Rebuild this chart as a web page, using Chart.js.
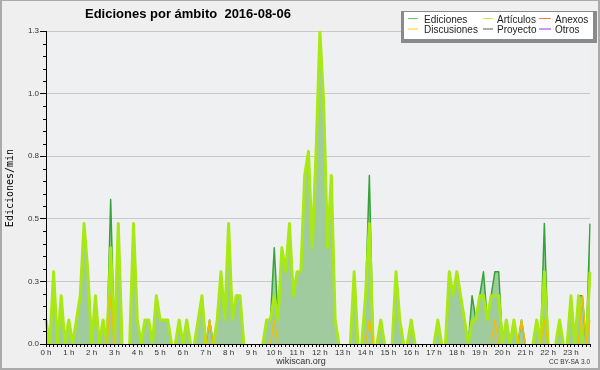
<!DOCTYPE html>
<html>
<head>
<meta charset="utf-8">
<script src="https://cdn.jsdelivr.net/npm/chart.js@4.4.0/dist/chart.umd.min.js"></script>
<style>
  html, body { margin: 0; padding: 0; background: #efefef; }
  #c { display: block; }
</style>
</head>
<body>
<canvas id="c" width="600" height="370"></canvas>
<script>
// etiquetas del eje x (una por hora)
const hourLabels = ['0 h', '1 h', '2 h', '3 h', '4 h', '5 h', '6 h', '7 h', '8 h', '9 h', '10 h', '11 h',
    '12 h', '13 h', '14 h', '15 h', '16 h', '17 h', '18 h', '19 h', '20 h', '21 h', '22 h', '23 h'];
// etiquetas del eje y
const yTickLabels = ['0.0', '0.3', '0.5', '0.8', '1.0', '1.3'];

// ediciones/min, tramos de 10 minutos
const ediciones = [
    0.1, 0, 0.3, 0, 0.2, 0, 0.1, 0, 0.1, 0.2,
    0.5, 0.3, 0, 0.2, 0, 0.1, 0, 0.6, 0, 0.5,
    0, 0, 0, 0.5, 0.1, 0, 0.1, 0.1, 0, 0.2,
    0.1, 0.1, 0.1, 0, 0, 0.1, 0, 0.1, 0, 0,
    0.1, 0.2, 0, 0.1, 0, 0.1, 0.3, 0.1, 0.5, 0.1,
    0.2, 0.2, 0, 0, 0, 0, 0, 0, 0.1, 0.1,
    0.4, 0.1, 0.4, 0.3, 0.5, 0.2, 0.3, 0.3, 0.7, 0.8,
    0.4, 0.8, 1.3, 1.0, 0.4, 0.7, 0.1, 0, 0, 0,
    0, 0.3, 0, 0, 0.2, 0.7, 0, 0, 0.1, 0,
    0, 0, 0.3, 0.1, 0, 0, 0.1, 0, 0, 0,
    0, 0, 0, 0.1, 0, 0, 0.3, 0.2, 0.3, 0.2,
    0.1, 0, 0.2, 0.1, 0.2, 0.3, 0.1, 0.2, 0.3, 0.3,
    0, 0.1, 0, 0.1, 0, 0.1, 0, 0, 0, 0.1,
    0, 0.5, 0, 0, 0, 0.1, 0, 0, 0.2, 0,
    0.2, 0.2, 0, 0.5
];
const articulos = [
    0.1, 0, 0.3, 0, 0.2, 0, 0.1, 0, 0.1, 0.2,
    0.5, 0.3, 0, 0.2, 0, 0.1, 0, 0.4, 0, 0.5,
    0, 0, 0, 0.5, 0.1, 0, 0.1, 0.1, 0, 0.2,
    0.1, 0.1, 0.1, 0, 0, 0.1, 0, 0.1, 0, 0,
    0.1, 0.2, 0, 0, 0, 0.1, 0.3, 0.1, 0.5, 0.1,
    0.2, 0.2, 0, 0, 0, 0, 0, 0, 0.1, 0.1,
    0.2, 0.1, 0.4, 0.3, 0.5, 0.2, 0.3, 0.3, 0.7, 0.8,
    0.4, 0.8, 1.3, 1.0, 0.4, 0.7, 0.1, 0, 0, 0,
    0, 0.3, 0, 0, 0.2, 0.5, 0, 0, 0.1, 0,
    0, 0, 0.3, 0.1, 0, 0, 0.1, 0, 0, 0,
    0, 0, 0, 0.1, 0, 0, 0.3, 0.2, 0.3, 0.2,
    0.1, 0, 0.1, 0.1, 0.2, 0.2, 0.1, 0.2, 0.2, 0.2,
    0, 0.1, 0, 0.1, 0, 0, 0, 0, 0, 0.1,
    0, 0.3, 0, 0, 0, 0.1, 0, 0, 0.2, 0,
    0.2, 0, 0, 0.3
];
const discusiones = [
    0, 0, 0, 0, 0, 0, 0, 0, 0, 0,
    0, 0, 0, 0, 0, 0, 0, 0.2, 0, 0,
    0, 0, 0, 0, 0, 0, 0, 0, 0, 0,
    0, 0, 0, 0, 0, 0, 0, 0, 0, 0,
    0, 0, 0, 0.1, 0, 0, 0, 0, 0, 0,
    0, 0, 0, 0, 0, 0, 0, 0, 0, 0,
    0.1, 0, 0, 0, 0, 0, 0, 0, 0, 0,
    0, 0, 0, 0, 0, 0, 0, 0, 0, 0,
    0, 0, 0, 0, 0, 0.1, 0, 0, 0, 0,
    0, 0, 0, 0, 0, 0, 0, 0, 0, 0,
    0, 0, 0, 0, 0, 0, 0, 0, 0, 0,
    0, 0, 0, 0, 0, 0, 0, 0, 0.1, 0,
    0, 0, 0, 0, 0, 0.1, 0, 0, 0, 0,
    0, 0.1, 0, 0, 0, 0, 0, 0, 0, 0,
    0, 0.2, 0, 0.1
];
// sin ediciones ese dia
const anexos = [];
const proyecto = [];
const otros = [];

// categorias: tramos de 10 min
const bins = [];
hourLabels.forEach(function(h, i) {
    for (let m = 0; m < 6; m++) bins.push(i + ':' + m + '0');
});

// no dibujar tramos a cero sobre el eje
function hideZero(ctx) {
    return (ctx.p0.parsed.y === 0 && ctx.p1.parsed.y === 0) ? 'rgba(0,0,0,0)' : undefined;
}

const bgPlugin = {
    id: 'bg',
    beforeDraw: function(chart) {
        const c = chart.ctx, a = chart.chartArea;
        c.save();
        c.fillStyle = '#efefef';
        c.fillRect(0, 0, chart.width, chart.height);
        c.fillStyle = '#eff0f2';
        c.fillRect(a.left, a.top, a.right - a.left, a.bottom - a.top);
        c.restore();
    }
};

const decorPlugin = {
    id: 'decor',
    afterDraw: function(chart) {
        const c = chart.ctx, y = chart.scales.y;
        c.save();
        // ticks menores del eje y
        c.strokeStyle = '#000';
        c.lineWidth = 1;
        for (let k = 1; k < 25; k++) {
            if (k % 5 === 0) continue;
            const py = Math.round(y.getPixelForValue(k * 0.052)) + 0.5;
            c.beginPath();
            c.moveTo(43, py);
            c.lineTo(46, py);
            c.stroke();
        }

        c.fillStyle = '#000';
        c.font = 'bold 13px "Liberation Sans"';
        c.textBaseline = 'alphabetic';
        c.fillText('Ediciones por ámbito  2016-08-06', 85, 18);

        c.save();
        c.translate(13, 188);
        c.rotate(-Math.PI / 2);
        c.font = '10px "DejaVu Sans Mono"';
        c.textAlign = 'center';
        c.fillText('Ediciones/min', 0, 0);
        c.restore();

        c.fillStyle = '#333';
        c.font = '9px "Liberation Sans"';
        c.textAlign = 'center';
        c.fillText('wikiscan.org', 301, 364);
        c.font = '6.5px "Liberation Sans"';
        c.textAlign = 'right';
        c.fillText('CC BY-SA 3.0', 590, 364);

        // leyenda
        c.fillStyle = '#8a8a8a';
        c.fillRect(401, 11, 196, 32);
        c.fillStyle = '#fff';
        c.fillRect(404, 12, 189, 27);
        const lineX = [408, 483, 539], lineW = [10, 10, 12], textX = [424, 497, 555];
        const rowY = [22.5, 33];
        c.font = '10px "Liberation Sans"';
        c.textAlign = 'left';
        chart.data.datasets.forEach(function(ds, i) {
            const r = Math.floor(i / 3), col = i % 3;
            c.strokeStyle = ds.legendColor;
            c.beginPath();
            c.moveTo(lineX[col], rowY[r] - 4);
            c.lineTo(lineX[col] + lineW[col], rowY[r] - 4);
            c.stroke();
            c.fillStyle = '#222';
            c.fillText(ds.label, textX[col], rowY[r]);
        });

        // marco
        c.strokeStyle = '#aaa';
        c.lineWidth = 2;
        c.strokeRect(1, 0, chart.width - 2, chart.height - 1);
        c.restore();
    }
};

new Chart(document.getElementById('c'), {
    type: 'line',
    data: {
        labels: bins,
        datasets: [{
            label: 'Ediciones',
            data: ediciones,
            legendColor: '#66cc66',
            borderColor: '#36a336',
            borderWidth: 1.5,
            backgroundColor: '#9fcb9f',
            fill: 'origin',
            segment: { borderColor: hideZero },
            order: 3
        }, {
            label: 'Artículos',
            data: articulos,
            legendColor: '#ccf040',
            borderColor: '#a8e814',
            borderWidth: 3,
            fill: false,
            segment: { borderColor: hideZero },
            order: 2
        }, {
            label: 'Anexos',
            data: anexos,
            legendColor: '#ff7744',
            borderColor: '#ff7744',
            fill: false,
            order: 4
        }, {
            label: 'Discusiones',
            data: discusiones,
            legendColor: '#ffcc22',
            borderColor: '#f0c000',
            borderWidth: 1.5,
            fill: false,
            segment: { borderColor: hideZero },
            order: 1
        }, {
            label: 'Proyecto',
            data: proyecto,
            legendColor: '#555555',
            borderColor: '#555555',
            fill: false,
            order: 5
        }, {
            label: 'Otros',
            data: otros,
            legendColor: '#8833ff',
            borderColor: '#8833ff',
            fill: false,
            order: 6
        }]
    },
    options: {
        responsive: false,
        animation: false,
        devicePixelRatio: 1,
        layout: { padding: { left: 0, top: 31, right: 10, bottom: 0 } },
        elements: {
            point: { radius: 0 },
            line: { tension: 0, borderJoinStyle: 'round' }
        },
        plugins: {
            legend: { display: false },
            tooltip: { enabled: false },
            title: { display: false }
        },
        scales: {
            x: {
                type: 'category',
                offset: false,
                grid: { drawOnChartArea: false, tickLength: 3, color: '#000', tickColor: '#000' },
                border: { color: '#000', width: 1, z: 1 },
                ticks: {
                    autoSkip: false,
                    maxRotation: 0,
                    minRotation: 0,
                    padding: 1,
                    color: '#333',
                    font: { family: 'Liberation Sans', size: 8 },
                    callback: function(v, i) { return i % 6 === 0 ? hourLabels[i / 6] : ''; }
                },
                afterFit: function(s) { s.height = 26; }
            },
            y: {
                min: 0,
                max: 1.3,
                grid: {
                    color: function(c) { return c.index === 0 ? 'rgba(0,0,0,0)' : '#c8c8c8'; },
                    tickColor: '#000',
                    tickLength: 6
                },
                border: { color: '#000', width: 1, z: 1 },
                ticks: {
                    stepSize: 0.26,
                    padding: 1,
                    color: '#333',
                    font: { family: 'Liberation Sans', size: 8 },
                    callback: function(v, i) { return yTickLabels[i]; }
                },
                afterFit: function(s) { s.width = 46; }
            }
        }
    },
    plugins: [bgPlugin, decorPlugin]
});
</script>
</body>
</html>
